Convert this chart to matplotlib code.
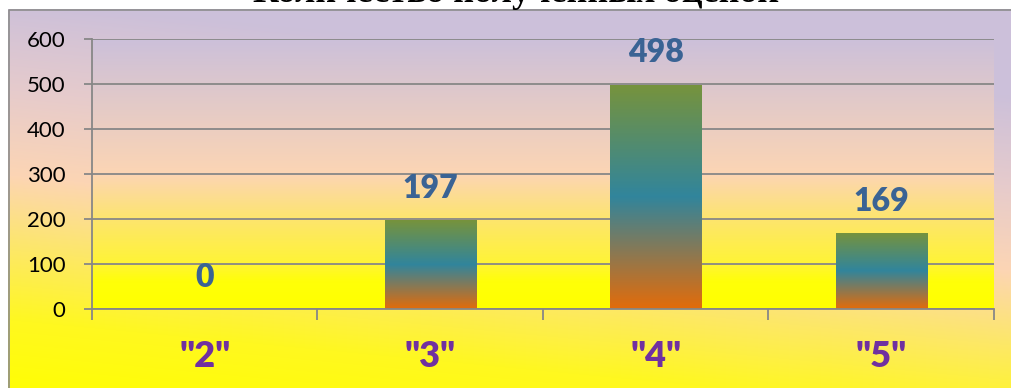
import numpy as np
import matplotlib
matplotlib.use("Agg")
import matplotlib.pyplot as plt
from matplotlib.colors import to_rgb

# ---- data ----
title = "Количество полученных оценок"
categories = ['"2"', '"3"', '"4"', '"5"']
values = [0, 197, 498, 169]
yticks = [0, 100, 200, 300, 400, 500, 600]

W, H = 1011, 388
fig = plt.figure(figsize=(W / 100, H / 100), dpi=100)

GRAY = "#878787"

def grad(stops_pos, stops_col, t):
    cols = np.array([to_rgb(c) for c in stops_col])
    out = np.stack([np.interp(t, stops_pos, cols[:, k]) for k in range(3)], axis=-1)
    return out

# ---- outer chart background (diagonal gradient) ----
ax_bg = fig.add_axes([0, 0, 1, 1], zorder=0)
ax_bg.axis("off")
yy, xx = np.mgrid[0:H, 0:W].astype(float)
s = yy - 0.095 * (xx - 10)
img = grad([0, 90, 175, 250, 320, 400],
           ["#ccc0da", "#e6cbcc", "#fcd5b4", "#fde866", "#fff820", "#ffff00"], s)
mask = (xx < 8) | (yy < 9)
img[mask] = 1.0
ax_bg.imshow(img, extent=(0, W, H, 0), aspect="auto", interpolation="bilinear")
ax_bg.set_xlim(0, W)
ax_bg.set_ylim(H, 0)
ax_bg.plot([8.5, 8.5, W], [H, 9.5, 9.5], color="#8c8c8c", lw=1.2)

# ---- title (partly cut off at top, as in the reference) ----
fig.text(516 / W, 1 - 2.5 / H, title, ha="center", va="baseline",
         fontfamily="Liberation Serif", fontweight="bold", fontsize=26, color="black")

# ---- plot area ----
ax = fig.add_axes([92 / W, 1 - 309 / H, (994 - 92) / W, (309 - 39) / H], zorder=1)
ax.patch.set_alpha(0)
ax.set_xlim(0.5, 4.5)
ax.set_ylim(0, 600)

t = np.linspace(0, 600, 300)[:, None]
pimg = grad([0, 60, 100, 200, 300, 600],
            ["#ffff00", "#ffff08", "#fff435", "#fde56e", "#fcd5b4", "#ccc0da"], t)
ax.imshow(pimg[::-1], extent=(0.5, 4.5, 0, 600), aspect="auto", zorder=0,
          interpolation="bilinear")

ax.set_yticks(yticks)
ax.yaxis.grid(True, color=GRAY, lw=1.3, zorder=1)
ax.set_axisbelow(True)
for sp in ["top", "right"]:
    ax.spines[sp].set_visible(False)
for sp in ["left", "bottom"]:
    ax.spines[sp].set_color(GRAY)
    ax.spines[sp].set_linewidth(1.3)

ax.tick_params(axis="y", length=6, width=1.3, color=GRAY, pad=13,
               labelsize=16, labelcolor="black")
for lab in ax.get_yticklabels():
    lab.set_fontfamily("Lato")

x = np.arange(1, len(categories) + 1)
ax.set_xticks(x)
ax.set_xticklabels(categories)
ax.set_xticks(np.arange(0.5, len(categories) + 1, 1.0), minor=True)
ax.tick_params(axis="x", which="major", length=0, pad=22, labelsize=26,
               labelcolor="#7030a0")
ax.tick_params(axis="x", which="minor", length=8, width=1.3, color=GRAY,
               direction="out")
for lab in ax.get_xticklabels():
    lab.set_fontfamily("Lato")
    lab.set_fontweight("heavy")

bars = ax.bar(x, values, width=0.405, color="none", edgecolor="none", zorder=2)
bgrad = np.linspace(0, 1, 200)[:, None]
bimg = grad([0, 0.5, 1.0], ["#e36c0a", "#31859c", "#77933c"], bgrad)[::-1]
for b in bars:
    h = b.get_height()
    if h <= 0:
        continue
    im = ax.imshow(bimg, extent=(b.get_x(), b.get_x() + b.get_width(), 0, h),
                   aspect="auto", zorder=2, interpolation="bilinear")
    im.set_clip_path(b)

for xi, v in zip(x, values):
    ax.annotate(str(v), (xi, v), xytext=(0, 23), textcoords="offset points",
                ha="center", va="center", fontsize=23, fontweight="heavy",
                fontfamily="Lato", color="#3a6394", zorder=3)

ax.set_xlim(0.5, 4.5)
ax.set_ylim(0, 600)

fig.savefig("out.png", dpi=100)
